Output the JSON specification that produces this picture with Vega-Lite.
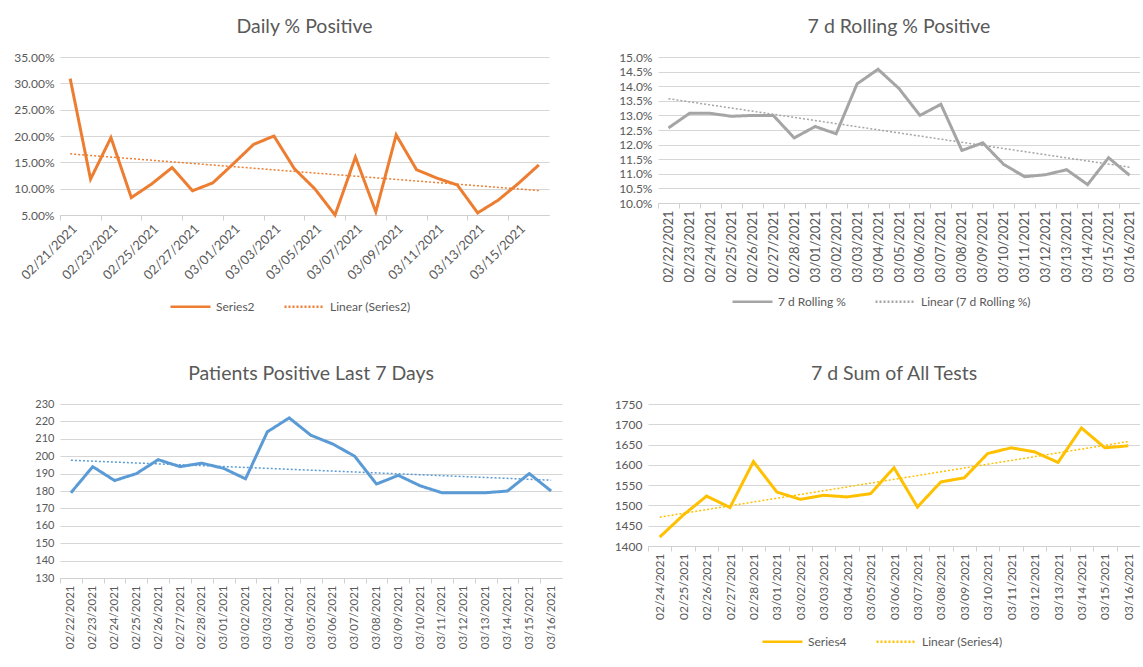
{
  "$schema": "https://vega.github.io/schema/vega-lite/v6.json",
  "background": "white",
  "padding": {"left": 10, "top": 16, "right": 0, "bottom": 0},
  "datasets": {
    "daily": [
      {"date": "2021-02-21T00:00", "value": 0.309},
      {"date": "2021-02-22T00:00", "value": 0.118},
      {"date": "2021-02-23T00:00", "value": 0.197},
      {"date": "2021-02-24T00:00", "value": 0.083},
      {"date": "2021-02-25T00:00", "value": 0.109},
      {"date": "2021-02-26T00:00", "value": 0.140},
      {"date": "2021-02-27T00:00", "value": 0.096},
      {"date": "2021-02-28T00:00", "value": 0.111},
      {"date": "2021-03-01T00:00", "value": 0.147},
      {"date": "2021-03-02T00:00", "value": 0.184},
      {"date": "2021-03-03T00:00", "value": 0.200},
      {"date": "2021-03-04T00:00", "value": 0.138},
      {"date": "2021-03-05T00:00", "value": 0.100},
      {"date": "2021-03-06T00:00", "value": 0.050},
      {"date": "2021-03-07T00:00", "value": 0.160},
      {"date": "2021-03-08T00:00", "value": 0.056},
      {"date": "2021-03-09T00:00", "value": 0.202},
      {"date": "2021-03-10T00:00", "value": 0.136},
      {"date": "2021-03-11T00:00", "value": 0.120},
      {"date": "2021-03-12T00:00", "value": 0.107},
      {"date": "2021-03-13T00:00", "value": 0.054},
      {"date": "2021-03-14T00:00", "value": 0.078},
      {"date": "2021-03-15T00:00", "value": 0.110},
      {"date": "2021-03-16T00:00", "value": 0.145}
    ],
    "rolling": [
      {"date": "2021-02-22T00:00", "value": 0.1257},
      {"date": "2021-02-23T00:00", "value": 0.1307},
      {"date": "2021-02-24T00:00", "value": 0.1307},
      {"date": "2021-02-25T00:00", "value": 0.1297},
      {"date": "2021-02-26T00:00", "value": 0.1300},
      {"date": "2021-02-27T00:00", "value": 0.1300},
      {"date": "2021-02-28T00:00", "value": 0.1223},
      {"date": "2021-03-01T00:00", "value": 0.1262},
      {"date": "2021-03-02T00:00", "value": 0.1237},
      {"date": "2021-03-03T00:00", "value": 0.1408},
      {"date": "2021-03-04T00:00", "value": 0.1458},
      {"date": "2021-03-05T00:00", "value": 0.1392},
      {"date": "2021-03-06T00:00", "value": 0.1300},
      {"date": "2021-03-07T00:00", "value": 0.1338},
      {"date": "2021-03-08T00:00", "value": 0.1180},
      {"date": "2021-03-09T00:00", "value": 0.1206},
      {"date": "2021-03-10T00:00", "value": 0.1132},
      {"date": "2021-03-11T00:00", "value": 0.1090},
      {"date": "2021-03-12T00:00", "value": 0.1097},
      {"date": "2021-03-13T00:00", "value": 0.1114},
      {"date": "2021-03-14T00:00", "value": 0.1063},
      {"date": "2021-03-15T00:00", "value": 0.1155},
      {"date": "2021-03-16T00:00", "value": 0.1095}
    ],
    "patients": [
      {"date": "2021-02-22T00:00", "value": 179},
      {"date": "2021-02-23T00:00", "value": 194},
      {"date": "2021-02-24T00:00", "value": 186},
      {"date": "2021-02-25T00:00", "value": 190},
      {"date": "2021-02-26T00:00", "value": 198},
      {"date": "2021-02-27T00:00", "value": 194},
      {"date": "2021-02-28T00:00", "value": 196},
      {"date": "2021-03-01T00:00", "value": 193},
      {"date": "2021-03-02T00:00", "value": 187},
      {"date": "2021-03-03T00:00", "value": 214},
      {"date": "2021-03-04T00:00", "value": 222},
      {"date": "2021-03-05T00:00", "value": 212},
      {"date": "2021-03-06T00:00", "value": 207},
      {"date": "2021-03-07T00:00", "value": 200},
      {"date": "2021-03-08T00:00", "value": 184},
      {"date": "2021-03-09T00:00", "value": 189},
      {"date": "2021-03-10T00:00", "value": 183},
      {"date": "2021-03-11T00:00", "value": 179},
      {"date": "2021-03-12T00:00", "value": 179},
      {"date": "2021-03-13T00:00", "value": 179},
      {"date": "2021-03-14T00:00", "value": 180},
      {"date": "2021-03-15T00:00", "value": 190},
      {"date": "2021-03-16T00:00", "value": 180}
    ],
    "tests": [
      {"date": "2021-02-24T00:00", "value": 1422},
      {"date": "2021-02-25T00:00", "value": 1476},
      {"date": "2021-02-26T00:00", "value": 1523},
      {"date": "2021-02-27T00:00", "value": 1495},
      {"date": "2021-02-28T00:00", "value": 1608},
      {"date": "2021-03-01T00:00", "value": 1533},
      {"date": "2021-03-02T00:00", "value": 1515},
      {"date": "2021-03-03T00:00", "value": 1525},
      {"date": "2021-03-04T00:00", "value": 1521},
      {"date": "2021-03-05T00:00", "value": 1529},
      {"date": "2021-03-06T00:00", "value": 1593},
      {"date": "2021-03-07T00:00", "value": 1496},
      {"date": "2021-03-08T00:00", "value": 1558},
      {"date": "2021-03-09T00:00", "value": 1568},
      {"date": "2021-03-10T00:00", "value": 1628},
      {"date": "2021-03-11T00:00", "value": 1642},
      {"date": "2021-03-12T00:00", "value": 1632},
      {"date": "2021-03-13T00:00", "value": 1606},
      {"date": "2021-03-14T00:00", "value": 1691},
      {"date": "2021-03-15T00:00", "value": 1642},
      {"date": "2021-03-16T00:00", "value": 1647}
    ]
  },
  "spacing": 50,
  "resolve": {"scale": {"x": "independent", "y": "independent", "color": "independent", "strokeDash": "independent"}, "legend": {"color": "independent", "strokeDash": "independent"}},
  "vconcat": [
    {
      "spacing": 59,
      "resolve": {"scale": {"x": "independent", "y": "independent", "color": "independent", "strokeDash": "independent"}, "legend": {"color": "independent", "strokeDash": "independent"}},
      "hconcat": [
        {
          "title": "Daily % Positive",
          "width": 489,
          "height": 158,
          "data": {"name": "daily", "format": {"parse": {"date": "date"}}},
          "encoding": {
            "x": {"field": "date", "type": "temporal",
              "scale": {"domain": [{"year": 2021, "month": 2, "date": 20, "hours": 12}, {"year": 2021, "month": 3, "date": 16, "hours": 12}], "nice": false},
              "axis": {"format": "%m/%d/%Y", "labelAngle": -45, "labelFontSize": 13, "tickCount": {"interval": "day", "step": 2}, "tickOffset": -10.2, "labelOffset": 10.2, "labelOverlap": false, "labelFlush": false, "labelBound": false}}
          },
          "layer": [
            {
              "mark": {"type": "line", "strokeWidth": 3},
              "encoding": {
                "y": {"field": "value", "type": "quantitative", "scale": {"domain": [0.05, 0.35], "nice": false, "zero": false},
                  "axis": {"format": ".2%", "values": [0.05, 0.10, 0.15, 0.20, 0.25, 0.30, 0.35], "tickCount": 40, "labelOverlap": false, "grid": true, "minExtent": 50, "maxExtent": 50}},
                "color": {"datum": "Series2", "scale": {"domain": ["Series2", "Linear (Series2)"], "range": ["#ED7D31", "#ED7D31"]}, "legend": {"title": null, "orient": "none", "legendX": 109, "legendY": 228}},
                "strokeDash": {"datum": "Series2", "scale": {"domain": ["Series2", "Linear (Series2)"], "range": [[1, 0], [2, 2]]}, "legend": {"title": null, "orient": "none", "legendX": 109, "legendY": 228}}
              }
            },
            {
              "transform": [{"regression": "value", "on": "date"}],
              "mark": {"type": "line", "strokeWidth": 1.5},
              "encoding": {
                "y": {"field": "value", "type": "quantitative"},
                "color": {"datum": "Linear (Series2)"},
                "strokeDash": {"datum": "Linear (Series2)"}
              }
            }
          ]
        },
        {
          "title": "7 d Rolling % Positive",
          "width": 482,
          "height": 146,
          "data": {"name": "rolling", "format": {"parse": {"date": "date"}}},
          "encoding": {
            "x": {"field": "date", "type": "temporal",
              "scale": {"domain": [{"year": 2021, "month": 2, "date": 21, "hours": 12}, {"year": 2021, "month": 3, "date": 16, "hours": 12}], "nice": false},
              "axis": {"format": "%m/%d/%Y", "labelAngle": -90, "tickCount": {"interval": "day", "step": 1}, "tickOffset": -10.5, "labelOffset": 10.5, "labelOverlap": false, "labelFlush": false, "labelBound": false, "labelFontSize": 13}}
          },
          "layer": [
            {
              "mark": {"type": "line", "strokeWidth": 3},
              "encoding": {
                "y": {"field": "value", "type": "quantitative", "scale": {"domain": [0.10, 0.15], "nice": false, "zero": false},
                  "axis": {"format": ".1%", "values": [0.10, 0.105, 0.11, 0.115, 0.12, 0.125, 0.13, 0.135, 0.14, 0.145, 0.15], "tickCount": 40, "labelOverlap": false, "grid": true, "minExtent": 50, "maxExtent": 50}},
                "color": {"datum": "7 d Rolling %", "scale": {"domain": ["7 d Rolling %", "Linear (7 d Rolling %)"], "range": ["#A5A5A5", "#A5A5A5"]}, "legend": {"title": null, "orient": "none", "legendX": 73, "legendY": 223}},
                "strokeDash": {"datum": "7 d Rolling %", "scale": {"domain": ["7 d Rolling %", "Linear (7 d Rolling %)"], "range": [[1, 0], [2, 2]]}, "legend": {"title": null, "orient": "none", "legendX": 73, "legendY": 223}}
              }
            },
            {
              "transform": [{"regression": "value", "on": "date"}],
              "mark": {"type": "line", "strokeWidth": 1.5},
              "encoding": {
                "y": {"field": "value", "type": "quantitative"},
                "color": {"datum": "Linear (7 d Rolling %)"},
                "strokeDash": {"datum": "Linear (7 d Rolling %)"}
              }
            }
          ]
        }
      ]
    },
    {
      "spacing": 46,
      "resolve": {"scale": {"x": "independent", "y": "independent", "color": "independent", "strokeDash": "independent"}, "legend": {"color": "independent", "strokeDash": "independent"}},
      "hconcat": [
        {
          "title": "Patients Positive Last 7 Days",
          "width": 502,
          "height": 174,
          "data": {"name": "patients", "format": {"parse": {"date": "date"}}},
          "encoding": {
            "x": {"field": "date", "type": "temporal",
              "scale": {"domain": [{"year": 2021, "month": 2, "date": 21, "hours": 12}, {"year": 2021, "month": 3, "date": 16, "hours": 12}], "nice": false},
              "axis": {"format": "%m/%d/%Y", "labelAngle": -90, "labelFontSize": 11.5, "tickCount": {"interval": "day", "step": 1}, "tickOffset": -10.9, "labelOffset": 10.9, "labelOverlap": false, "labelFlush": false, "labelBound": false}}
          },
          "layer": [
            {
              "mark": {"type": "line", "strokeWidth": 3},
              "encoding": {
                "y": {"field": "value", "type": "quantitative", "scale": {"domain": [130, 230], "nice": false, "zero": false},
                  "axis": {"values": [130, 140, 150, 160, 170, 180, 190, 200, 210, 220, 230], "format": "d", "labelFontSize": 11, "tickCount": 40, "labelOverlap": false, "grid": true, "minExtent": 42, "maxExtent": 42}},
                "color": {"datum": "Series3", "scale": {"domain": ["Series3", "Linear (Series3)"], "range": ["#5B9BD5", "#5B9BD5"]}, "legend": null},
                "strokeDash": {"datum": "Series3", "scale": {"domain": ["Series3", "Linear (Series3)"], "range": [[1, 0], [2, 2]]}, "legend": null}
              }
            },
            {
              "transform": [{"regression": "value", "on": "date"}],
              "mark": {"type": "line", "strokeWidth": 1.5},
              "encoding": {
                "y": {"field": "value", "type": "quantitative"},
                "color": {"datum": "Linear (Series3)"},
                "strokeDash": {"datum": "Linear (Series3)"}
              }
            }
          ]
        },
        {
          "title": "7 d Sum of All Tests",
          "width": 492,
          "height": 142,
          "data": {"name": "tests", "format": {"parse": {"date": "date"}}},
          "encoding": {
            "x": {"field": "date", "type": "temporal",
              "scale": {"domain": [{"year": 2021, "month": 2, "date": 23, "hours": 12}, {"year": 2021, "month": 3, "date": 16, "hours": 12}], "nice": false},
              "axis": {"format": "%m/%d/%Y", "labelAngle": -90, "labelFontSize": 12, "tickCount": {"interval": "day", "step": 1}, "tickOffset": -11.7, "labelOffset": 11.7, "labelOverlap": false, "labelFlush": false, "labelBound": false}}
          },
          "layer": [
            {
              "mark": {"type": "line", "strokeWidth": 3},
              "encoding": {
                "y": {"field": "value", "type": "quantitative", "scale": {"domain": [1400, 1750], "nice": false, "zero": false},
                  "axis": {"values": [1400, 1450, 1500, 1550, 1600, 1650, 1700, 1750], "format": "d", "tickCount": 40, "labelOverlap": false, "grid": true, "minExtent": 40, "maxExtent": 40}},
                "color": {"datum": "Series4", "scale": {"domain": ["Series4", "Linear (Series4)"], "range": ["#FFC000", "#FFC000"]}, "legend": {"title": null, "orient": "none", "legendX": 113, "legendY": 216}},
                "strokeDash": {"datum": "Series4", "scale": {"domain": ["Series4", "Linear (Series4)"], "range": [[1, 0], [2, 2]]}, "legend": {"title": null, "orient": "none", "legendX": 113, "legendY": 216}}
              }
            },
            {
              "transform": [{"regression": "value", "on": "date"}],
              "mark": {"type": "line", "strokeWidth": 1.5},
              "encoding": {
                "y": {"field": "value", "type": "quantitative"},
                "color": {"datum": "Linear (Series4)"},
                "strokeDash": {"datum": "Linear (Series4)"}
              }
            }
          ]
        }
      ]
    }
  ],
  "config": {
    "font": "Lato",
    "view": {"stroke": null},
    "axis": {"labelFont": "Lato", "labelFontSize": 12, "labelColor": "#595959", "domainColor": "#D0D0D0", "gridColor": "#D6D6D6", "gridOpacity": 1, "tickColor": "#D0D0D0", "title": null},
    "axisY": {"domain": false, "ticks": false, "grid": true, "labelPadding": 6},
    "axisX": {"grid": false, "ticks": true, "tickSize": 5, "labelPadding": 2},
    "legend": {"direction": "horizontal", "labelFont": "Lato", "labelFontSize": 12, "labelColor": "#595959", "symbolType": "stroke", "symbolSize": 1600, "symbolStrokeWidth": 2.5, "columnPadding": 24},
    "title": {"font": "Lato", "fontSize": 19.5, "fontWeight": "normal", "color": "#595959", "offset": 14}
  }
}
